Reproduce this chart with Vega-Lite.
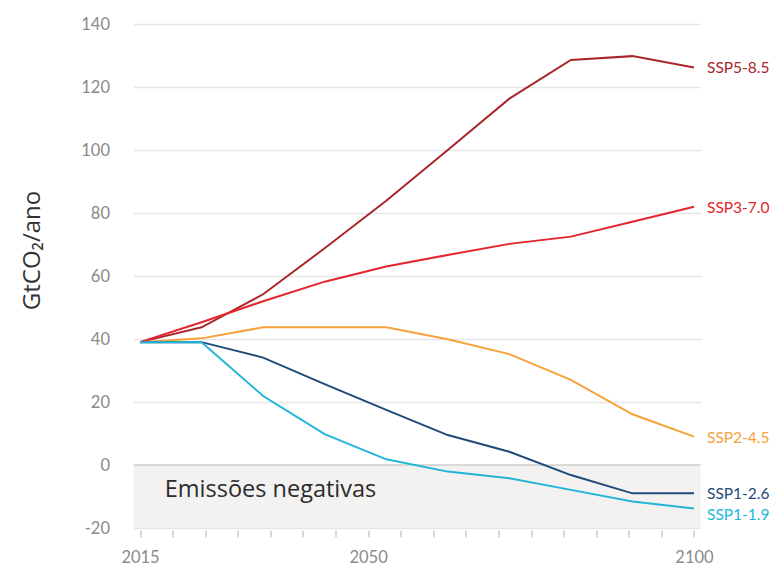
{
  "$schema": "https://vega.github.io/schema/vega-lite/v6.json",
  "width": 567,
  "height": 504,
  "autosize": "none",
  "padding": {"left": 133.5, "top": 24, "right": 73.5, "bottom": 39},
  "config": {"view": {"stroke": null}, "font": "Lato"},
  "datasets": {
    "series": [
      {"scenario": "SSP5-8.5", "year": 2015, "value": 39},
      {"scenario": "SSP5-8.5", "year": 2024.44, "value": 43.7},
      {"scenario": "SSP5-8.5", "year": 2033.89, "value": 54.2},
      {"scenario": "SSP5-8.5", "year": 2043.33, "value": 68.8},
      {"scenario": "SSP5-8.5", "year": 2052.78, "value": 83.9},
      {"scenario": "SSP5-8.5", "year": 2062.22, "value": 100},
      {"scenario": "SSP5-8.5", "year": 2071.67, "value": 116.3},
      {"scenario": "SSP5-8.5", "year": 2081.11, "value": 128.6},
      {"scenario": "SSP5-8.5", "year": 2090.56, "value": 129.8},
      {"scenario": "SSP5-8.5", "year": 2100, "value": 126.2},
      {"scenario": "SSP3-7.0", "year": 2015, "value": 39},
      {"scenario": "SSP3-7.0", "year": 2024.44, "value": 45.3},
      {"scenario": "SSP3-7.0", "year": 2033.89, "value": 52},
      {"scenario": "SSP3-7.0", "year": 2043.33, "value": 58.2},
      {"scenario": "SSP3-7.0", "year": 2052.78, "value": 63},
      {"scenario": "SSP3-7.0", "year": 2062.22, "value": 66.7},
      {"scenario": "SSP3-7.0", "year": 2071.67, "value": 70.2},
      {"scenario": "SSP3-7.0", "year": 2081.11, "value": 72.5},
      {"scenario": "SSP3-7.0", "year": 2090.56, "value": 77.2},
      {"scenario": "SSP3-7.0", "year": 2100, "value": 82},
      {"scenario": "SSP2-4.5", "year": 2015, "value": 39},
      {"scenario": "SSP2-4.5", "year": 2024.44, "value": 40.2},
      {"scenario": "SSP2-4.5", "year": 2033.89, "value": 43.7},
      {"scenario": "SSP2-4.5", "year": 2043.33, "value": 43.7},
      {"scenario": "SSP2-4.5", "year": 2052.78, "value": 43.7},
      {"scenario": "SSP2-4.5", "year": 2062.22, "value": 39.9},
      {"scenario": "SSP2-4.5", "year": 2071.67, "value": 35.2},
      {"scenario": "SSP2-4.5", "year": 2081.11, "value": 27},
      {"scenario": "SSP2-4.5", "year": 2090.56, "value": 16.1},
      {"scenario": "SSP2-4.5", "year": 2100, "value": 9},
      {"scenario": "SSP1-2.6", "year": 2015, "value": 39},
      {"scenario": "SSP1-2.6", "year": 2024.44, "value": 39},
      {"scenario": "SSP1-2.6", "year": 2033.89, "value": 34.1},
      {"scenario": "SSP1-2.6", "year": 2043.33, "value": 25.7},
      {"scenario": "SSP1-2.6", "year": 2052.78, "value": 17.5},
      {"scenario": "SSP1-2.6", "year": 2062.22, "value": 9.5},
      {"scenario": "SSP1-2.6", "year": 2071.67, "value": 4.2},
      {"scenario": "SSP1-2.6", "year": 2081.11, "value": -3.2},
      {"scenario": "SSP1-2.6", "year": 2090.56, "value": -9},
      {"scenario": "SSP1-2.6", "year": 2100, "value": -9},
      {"scenario": "SSP1-1.9", "year": 2015, "value": 39},
      {"scenario": "SSP1-1.9", "year": 2024.44, "value": 39},
      {"scenario": "SSP1-1.9", "year": 2033.89, "value": 21.9},
      {"scenario": "SSP1-1.9", "year": 2043.33, "value": 9.8},
      {"scenario": "SSP1-1.9", "year": 2052.78, "value": 1.8},
      {"scenario": "SSP1-1.9", "year": 2062.22, "value": -2.1},
      {"scenario": "SSP1-1.9", "year": 2071.67, "value": -4.2},
      {"scenario": "SSP1-1.9", "year": 2081.11, "value": -7.9},
      {"scenario": "SSP1-1.9", "year": 2090.56, "value": -11.6},
      {"scenario": "SSP1-1.9", "year": 2100, "value": -13.8}
    ]
  },
  "layer": [
    {
      "data": {"values": [{"start": 2014, "end": 2101, "low": -20, "high": 0}]},
      "mark": {"type": "rect", "color": "#f3f2f1"},
      "encoding": {
        "x": {"field": "start", "type": "quantitative", "scale": {"domain": [2014, 2101], "nice": false, "zero": false},
          "axis": {"values": [2015, 2020, 2025, 2030, 2035, 2040, 2045, 2050, 2055, 2060, 2065, 2070, 2075, 2080, 2085, 2090, 2095, 2100],
            "tickCount": 40,
            "labelExpr": "datum.value == 2015 || datum.value == 2050 || datum.value == 2100 ? datum.value : ''",
            "labelOverlap": false, "labelFlush": false,
            "grid": false, "domain": false, "tickColor": "#cccccc", "tickSize": 7, "tickWidth": 1.5, "offset": 2,
            "labelColor": "#8a8a8a", "labelFontSize": 16.5, "labelPadding": 12, "title": null}},
        "x2": {"field": "end"},
        "y": {"field": "low", "type": "quantitative", "scale": {"domain": [-20, 140], "nice": false},
          "axis": {"values": [-20, 0, 20, 40, 60, 80, 100, 120, 140], "tickCount": 20, "grid": true, "gridColor": "#e6e6e6", "gridWidth": 1.5,
            "labelExpr": "replace(datum.label, '−', '-')", "labelOverlap": false,
            "domain": false, "ticks": false, "labelColor": "#8a8a8a", "labelFontSize": 16.5, "labelPadding": 24,
            "title": "GtCO₂/ano", "titleFontSize": 24, "titleFontWeight": "normal", "titleColor": "#333333", "titleFont": "Open Sans",
            "titleX": -101, "titleY": 226, "titleAngle": -90, "titleAlign": "center", "titleBaseline": "middle"}},
        "y2": {"field": "high"}
      }
    },
    {
      "data": {"values": [{"value": 0}]},
      "mark": {"type": "rule", "color": "#cfcfcf", "strokeWidth": 1.5},
      "encoding": {"y": {"field": "value", "type": "quantitative"}}
    },
    {
      "data": {"values": [{"year": 2018.8, "value": -8, "text": "Emissões negativas"}]},
      "mark": {"type": "text", "align": "left", "baseline": "middle", "fontSize": 23.5, "color": "#2b2b2b", "font": "Open Sans"},
      "encoding": {
        "x": {"field": "year", "type": "quantitative"},
        "y": {"field": "value", "type": "quantitative"},
        "text": {"field": "text"}
      }
    },
    {
      "data": {"name": "series"},
      "mark": {"type": "line", "strokeWidth": 2},
      "encoding": {
        "x": {"field": "year", "type": "quantitative"},
        "y": {"field": "value", "type": "quantitative"},
        "color": {"field": "scenario", "type": "nominal", "legend": null,
          "scale": {"domain": ["SSP5-8.5", "SSP3-7.0", "SSP2-4.5", "SSP1-2.6", "SSP1-1.9"],
            "range": ["#a8262c", "#e4252b", "#f5a23a", "#1e4b7a", "#23b5d8"]}}
      }
    },
    {
      "data": {"name": "series"},
      "transform": [{"filter": "datum.year == 2100 && datum.scenario != 'SSP1-1.9'"}],
      "mark": {"type": "text", "align": "left", "baseline": "middle", "dx": 13, "dy": 1, "fontSize": 15.5},
      "encoding": {
        "x": {"field": "year", "type": "quantitative"},
        "y": {"field": "value", "type": "quantitative"},
        "text": {"field": "scenario"},
        "color": {"field": "scenario", "type": "nominal", "legend": null}
      }
    },
    {
      "data": {"name": "series"},
      "transform": [{"filter": "datum.year == 2100 && datum.scenario == 'SSP1-1.9'"}],
      "mark": {"type": "text", "align": "left", "baseline": "middle", "dx": 13, "dy": 7, "fontSize": 15.5},
      "encoding": {
        "x": {"field": "year", "type": "quantitative"},
        "y": {"field": "value", "type": "quantitative"},
        "text": {"field": "scenario"},
        "color": {"field": "scenario", "type": "nominal", "legend": null}
      }
    }
  ]
}
